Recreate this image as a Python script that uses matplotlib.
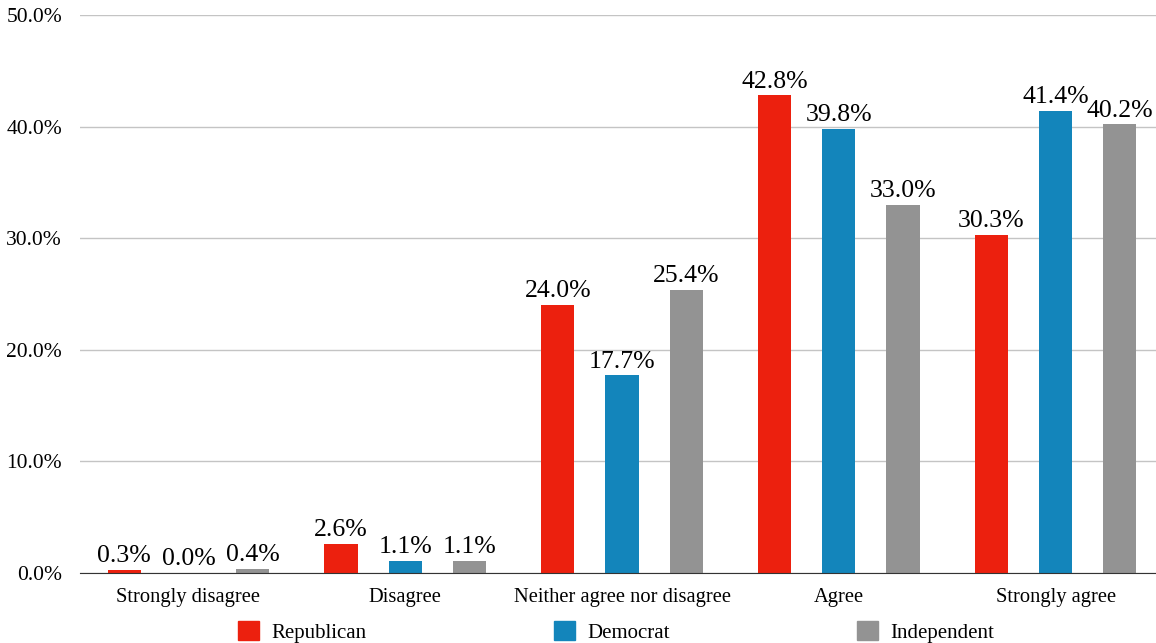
import numpy as np
import matplotlib
matplotlib.use('Agg')
import matplotlib.pyplot as plt
from matplotlib.patches import Patch
from matplotlib.ticker import FuncFormatter

plt.rcParams['font.family'] = ['Liberation Serif', 'DejaVu Serif']

### Data
categories = ['Strongly disagree', 'Disagree', 'Neither agree nor disagree', 'Agree', 'Strongly agree']
republican = [0.3, 2.6, 24.0, 42.8, 30.3]
democrat = [0.0, 1.1, 17.7, 39.8, 41.4]
independent = [0.4, 1.1, 25.4, 33.0, 40.2]
series_names = ['Republican', 'Democrat', 'Independent']
colours = ['#EC200E', '#1385BB', '#939393']

fig = plt.figure(figsize=(11.56, 6.43), dpi=100)
ax = fig.add_axes([80/1156, 1-573/643, 1084/1156, 558/643])

x = np.arange(len(categories))
width = 0.153
offset = 0.296
for i, (vals, name, col) in enumerate(zip([republican, democrat, independent], series_names, colours)):
	pos = x + (i-1)*offset
	bars = ax.bar(pos, vals, width, color=col, label=name, zorder=3)
	for b, v in zip(bars, vals):
		ax.annotate("{:.1f}%".format(v), (b.get_x()+b.get_width()/2, v), xytext=(0, 2),
			textcoords='offset points', ha='center', va='bottom', fontsize=18.5, zorder=4)

ax.set_xlim(-0.5, 4.5)
ax.set_ylim(0, 50)
ax.set_yticks(np.arange(0, 51, 10))
ax.yaxis.set_major_formatter(FuncFormatter(lambda v, p: "{:.1f}%".format(v)))
ax.set_xticks(x)
ax.set_xticklabels(categories)
ax.tick_params(axis='both', length=0)
ax.tick_params(axis='x', pad=11, labelsize=14.8)
ax.tick_params(axis='y', pad=13, labelsize=15.5)
ax.grid(axis='y', color='#c4c4c4', linewidth=1, zorder=0)
for s in ['top', 'right', 'left']:
	ax.spines[s].set_visible(False)
ax.spines['bottom'].set_color('#333333')
ax.spines['bottom'].set_zorder(5)

handles = [Patch(color=c, label=n) for c, n in zip(colours, series_names)]
fig.legend(handles=handles, loc='center', bbox_to_anchor=(616/1156, 1-632/643), ncol=3,
	frameon=False, fontsize=15, handlelength=1.0, handleheight=1.0, handletextpad=0.6,
	columnspacing=9.0, borderpad=0)

fig.savefig('out.png', dpi=100)
